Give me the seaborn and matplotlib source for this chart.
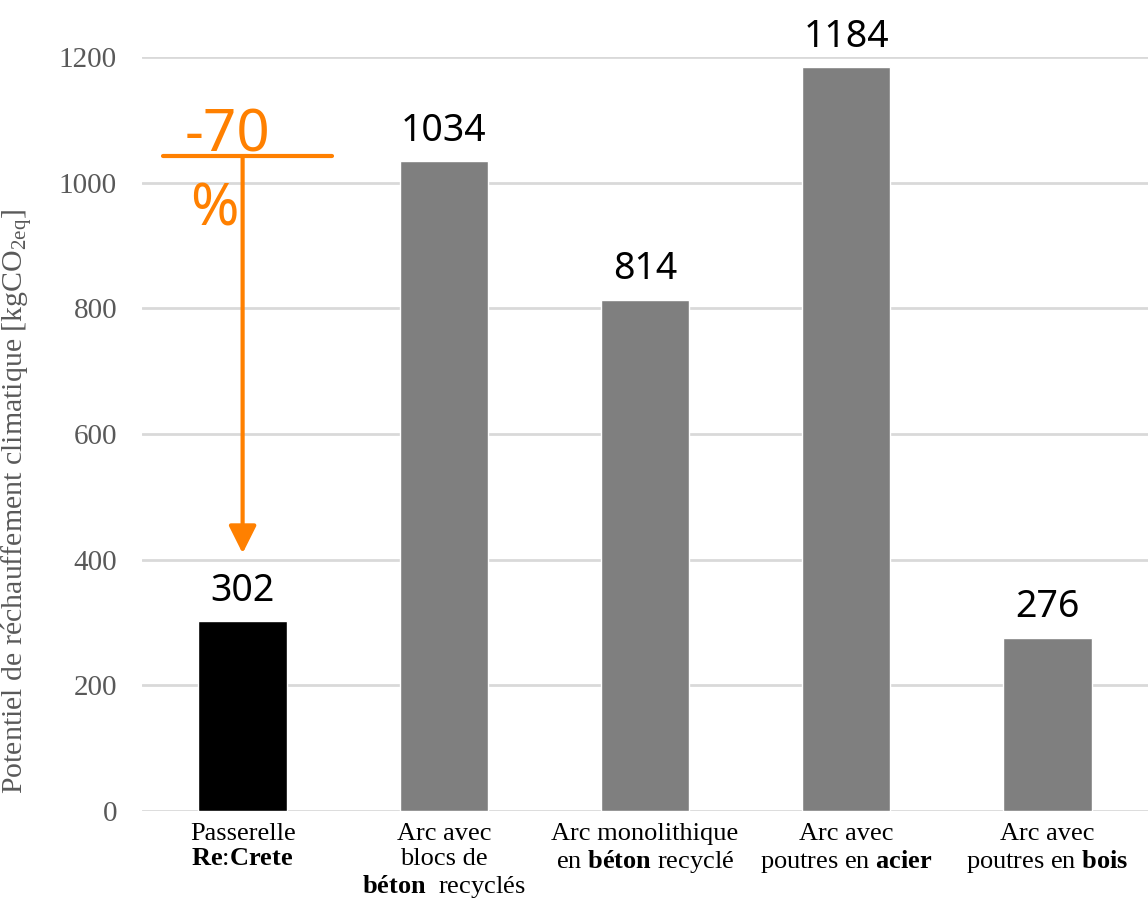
import matplotlib
matplotlib.use("Agg")
import matplotlib.pyplot as plt
import seaborn as sns

# ---- data ----
categories = [
    "Passerelle\n$\\mathbf{Re}$:$\\mathbf{Crete}$",
    "Arc avec\nblocs de\n$\\mathbf{béton}$  recyclés",
    "Arc monolithique\nen $\\mathbf{béton}$ recyclé",
    "Arc avec\npoutres en $\\mathbf{acier}$",
    "Arc avec\npoutres en $\\mathbf{bois}$",
]
values = [302, 1034, 814, 1184, 276]
bar_colors = ["#000000", "#7f7f7f", "#7f7f7f", "#7f7f7f", "#7f7f7f"]
y_ticks = [0, 200, 400, 600, 800, 1000, 1200]
y_label = "Potentiel de réchauffement climatique [kgCO$_{\\mathrm{2eq}}$]"
reduction_text = "-70"
percent_text = "%"

sns.set_theme(style="white")
plt.rcParams["font.family"] = ["Liberation Serif", "DejaVu Serif"]
plt.rcParams["mathtext.fontset"] = "custom"
plt.rcParams["mathtext.rm"] = "Liberation Serif"
plt.rcParams["mathtext.it"] = "Liberation Serif:italic"
plt.rcParams["mathtext.bf"] = "Liberation Serif:bold"

fig = plt.figure(figsize=(11.48, 9.11), dpi=100)
ax = fig.add_axes([0.1237, 0.1098, 0.8763, 0.8276])

sns.barplot(x=list(range(len(values))), y=values, hue=list(range(len(values))),
            palette=bar_colors, width=0.44, legend=False, ax=ax, saturation=1)

ax.set_xlim(-0.5, len(values) - 0.5)
ax.set_ylim(0, 1200)
ax.set_yticks(y_ticks)
ax.set_yticklabels([str(t) for t in y_ticks], fontsize=21, color="#595959")
ax.set_xticks(range(len(values)))
ax.set_xticklabels(categories, fontsize=19, color="#000000", linespacing=1.15)
ax.tick_params(axis="y", length=0, pad=18)
ax.tick_params(axis="x", length=0, pad=9)

ax.yaxis.grid(True, color="#d9d9d9", linewidth=2)
ax.set_axisbelow(True)
for s in ax.spines.values():
    s.set_visible(False)

ax.set_ylabel(y_label, fontsize=21.5, color="#595959")
ax.yaxis.set_label_coords(-0.106, 0.41)
ax.set_xlabel("")

for cont in ax.containers:
    ax.bar_label(cont, labels=[f"{v:.0f}" for v in cont.datavalues], padding=8,
                 fontsize=27, color="#000000", family=["Noto Sans", "DejaVu Sans"])

# orange reduction annotation
orange = "#ff8000"
ax.plot([-0.396, 0.446], [1042, 1042], color=orange, lw=3, clip_on=False)
ax.annotate("", xy=(0, 410), xytext=(0, 1042),
            arrowprops=dict(arrowstyle="-|>,head_length=1.4,head_width=0.7",
                            color=orange, lw=3, shrinkA=0, shrinkB=0))
ax.text(-0.074, 1050, reduction_text, color=orange, fontsize=42, ha="center", va="baseline",
        family=["Noto Sans", "DejaVu Sans"])
ax.text(-0.138, 1003, percent_text, color=orange, fontsize=42, ha="center", va="top",
        family=["Noto Sans", "DejaVu Sans"])

fig.savefig("out.png", dpi=100)
